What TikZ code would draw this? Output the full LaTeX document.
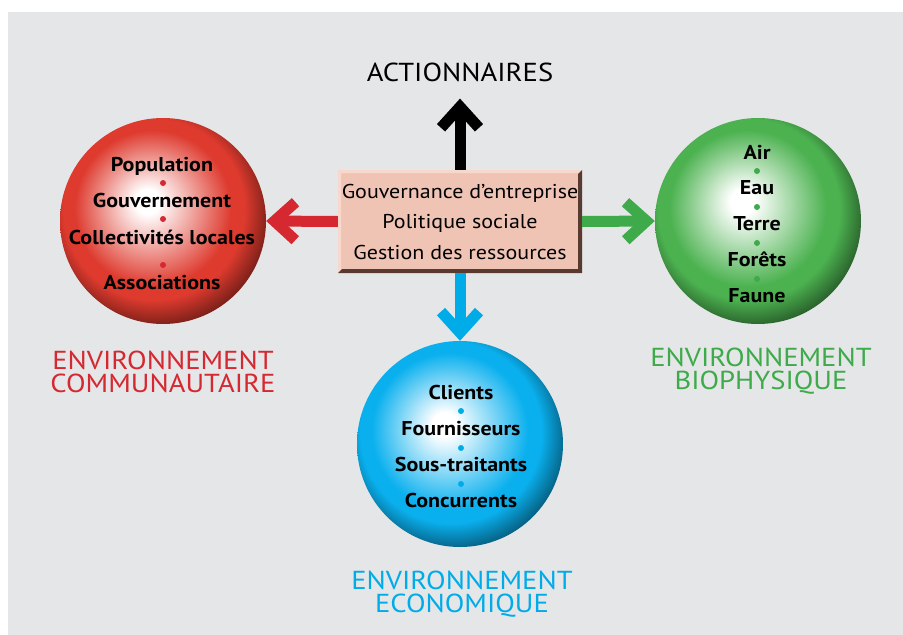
\documentclass[tikz,border=0pt]{standalone}
\usepackage{fontspec}
\setmainfont[FakeStretch=1.1]{PT Sans}
\usepackage{tikz}
\usetikzlibrary{arrows.meta}
\usetikzlibrary{positioning}
\definecolor{bggray}{RGB}{229,230,232}
\definecolor{ballred}{RGB}{222,58,46}
\definecolor{ballgreen}{RGB}{76,178,80}
\definecolor{ballblue}{RGB}{10,176,238}
\definecolor{envred}{RGB}{213,40,48}
\definecolor{envgreen}{RGB}{62,170,74}
\definecolor{envblue}{RGB}{0,172,232}
\definecolor{boxpink}{RGB}{240,196,180}
\definecolor{boxlight}{RGB}{248,216,204}
\definecolor{boxdark}{RGB}{88,58,48}
\pgfdeclareradialshading{redball}{\pgfpoint{-4bp}{5bp}}{color(0bp)=(white); color(3bp)=(white); color(19bp)=(ballred); color(22bp)=(ballred); color(31bp)=(ballred!30!black); color(50bp)=(ballred!30!black)}
\pgfdeclareradialshading{greenball}{\pgfpoint{-4bp}{5bp}}{color(0bp)=(white); color(3bp)=(white); color(19bp)=(ballgreen); color(22bp)=(ballgreen); color(31bp)=(ballgreen!30!black); color(50bp)=(ballgreen!30!black)}
\pgfdeclareradialshading{blueball}{\pgfpoint{-4bp}{5bp}}{color(0bp)=(white); color(3bp)=(white); color(19bp)=(ballblue); color(22bp)=(ballblue); color(31bp)=(ballblue!30!black); color(50bp)=(ballblue!30!black)}

\begin{document}
\begin{tikzpicture}[x=1pt, y=-1pt,
  ball node/.style={circle, minimum size=206pt, inner sep=0pt},
  item node/.style={anchor=base, inner sep=0pt, font=\fontsize{20}{24}\bfseries\selectfont},
  dot node/.style={circle, inner sep=0pt, minimum size=6pt},
  env node/.style={align=center, inner sep=0pt, font=\fontsize{26}{22.5}\selectfont},
  gov node/.style={rectangle, minimum width=244pt, minimum height=103pt, inner sep=0pt, fill=boxpink, align=center, font=\fontsize{20}{30.5}\selectfont,
    path picture={
      \fill[boxlight] (path picture bounding box.south west) -- (path picture bounding box.north west) -- (path picture bounding box.north east) -- ([xshift=-3pt,yshift=-3pt]path picture bounding box.north east) -- ([xshift=3pt,yshift=-3pt]path picture bounding box.north west) -- ([xshift=3pt,yshift=3pt]path picture bounding box.south west) -- cycle;
      \fill[boxdark] (path picture bounding box.south west) -- (path picture bounding box.south east) -- (path picture bounding box.north east) -- ([xshift=-4pt,yshift=-4pt]path picture bounding box.north east) -- ([xshift=-4pt,yshift=4pt]path picture bounding box.south east) -- ([xshift=4pt,yshift=4pt]path picture bounding box.south west) -- cycle;
    }},
  flow/.style={line width=11pt, -{Straight Barb[length=21pt, width=38pt]}}]
  % background
  \useasboundingbox (0,0) rectangle (903,635);
  \fill[bggray] (8,12) rectangle (903,635);

  % centre
  \node[gov node] (gov) at (460, 221.5) {Gouvernance d’entreprise\\Politique sociale\\Gestion des ressources};
  \node[inner sep=0pt, font=\fontsize{26}{28}\selectfont] (share) at (460, 72) {ACTIONNAIRES};

  % three spheres
  \node[ball node, shading=redball] (comm) at (163, 221) {};
  \node[ball node, shading=greenball] (bio) at (758, 221) {};
  \node[ball node, shading=blueball] (eco) at (460, 444) {};

  % communautaire
  \node[item node] (pop) at (162, 171) {Population};
  \node[dot node, fill=envred] (rd1) at (163, 183) {};
  \node[item node] (gouv) at (162, 207) {Gouvernement};
  \node[dot node, fill=envred] (rd2) at (163, 219) {};
  \node[item node] (coll) at (162, 244) {Collectivités locales};
  \node[dot node, fill=envred] (rd3) at (163, 265) {};
  \node[item node] (asso) at (162, 289) {Associations};

  % biophysique
  \node[item node] (air) at (757, 159) {Air};
  \node[dot node, fill=envgreen] (gd1) at (757, 171) {};
  \node[item node] (eau) at (757, 194) {Eau};
  \node[dot node, fill=envgreen] (gd2) at (757, 207) {};
  \node[item node] (terre) at (757, 230) {Terre};
  \node[dot node, fill=envgreen] (gd3) at (757, 243) {};
  \node[item node] (forets) at (757, 266) {Forêts};
  \node[dot node, fill=envgreen] (gd4) at (757, 279) {};
  \node[item node] (faune) at (757, 302) {Faune};

  % economique
  \node[item node] (clients) at (461, 399) {Clients};
  \node[dot node, fill=envblue] (bd1) at (461, 411) {};
  \node[item node] (fourn) at (461, 435) {Fournisseurs};
  \node[dot node, fill=envblue] (bd2) at (461, 448) {};
  \node[item node] (sous) at (461, 471) {Sous-traitants};
  \node[dot node, fill=envblue] (bd3) at (461, 484) {};
  \node[item node] (conc) at (461, 507) {Concurrents};

  % titles
  \node[env node, text=envred] (commlab) at (163, 372) {ENVIRONNEMENT\\COMMUNAUTAIRE};
  \node[env node, text=envgreen] (biolab) at (761, 371) {ENVIRONNEMENT\\BIOPHYSIQUE};
  \node[env node, text=envblue] (ecolab) at (462, 594) {ENVIRONNEMENT\\ECONOMIQUE};

  % arrows
  \draw[flow, draw=black] (gov.north) -- ([yshift=-17pt]share.south);
  \draw[flow, draw=envred] (gov.west) -- (comm.east);
  \draw[flow, draw=envgreen] (gov.east) -- (bio.west);
  \draw[flow, draw=envblue] (gov.south) -- (eco.north);
\end{tikzpicture}
\end{document}
